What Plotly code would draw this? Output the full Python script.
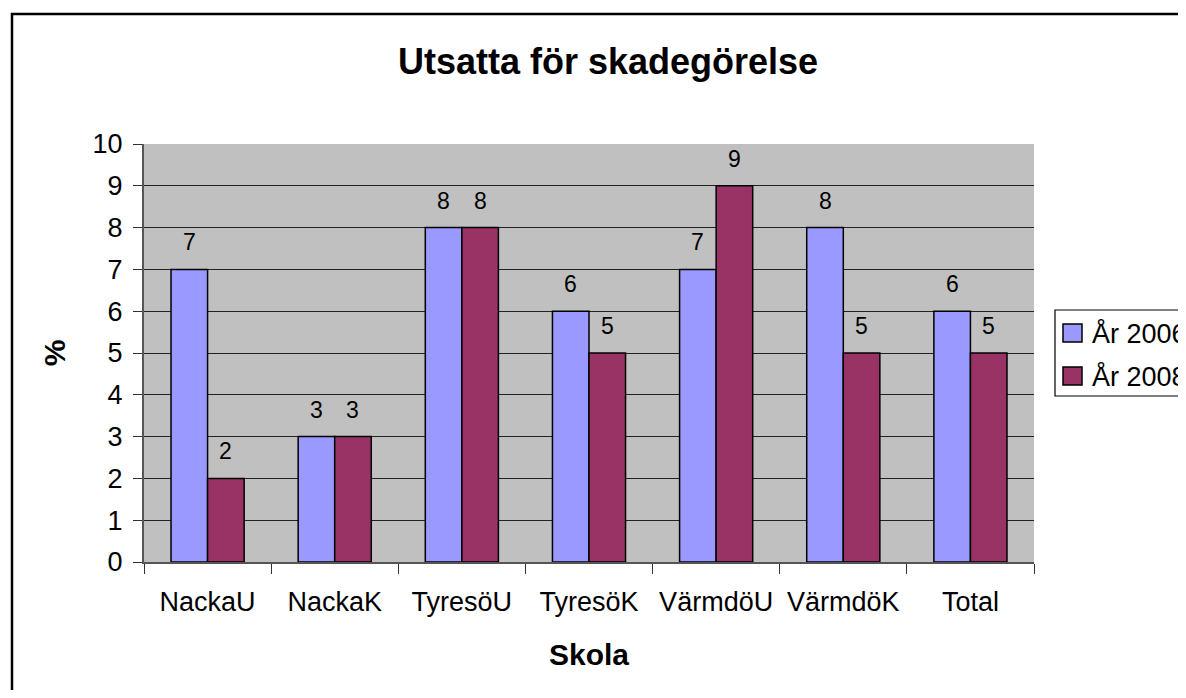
import plotly.graph_objects as go

categories = ["NackaU", "NackaK", "TyresöU", "TyresöK", "VärmdöU", "VärmdöK", "Total"]
year_2006 = [7, 3, 8, 6, 7, 8, 6]
year_2008 = [2, 3, 8, 5, 9, 5, 5]
series_names = ["År 2006", "År 2008"]
y_ticks = list(range(0, 11))

FONT = "Liberation Sans, Arial, sans-serif"
colors = ["#9999FF", "#993366"]

# page pixel geometry (browser body has an 8px margin on every side)
BODY = 8
W, H = 1186, 698
L, R = 144, 1034
T, B = 144, 562
FIG_W = W - BODY
FIG_H = H - 2 * BODY


def px_x(p):
    return (p - L) / (R - L)


def px_y(p):
    return (B - p) / (B - T)


fig = go.Figure()
for name, vals, col in zip(series_names, [year_2006, year_2008], colors):
    fig.add_trace(go.Bar(
        x=categories, y=vals, name=name, showlegend=False,
        marker=dict(color=col, line=dict(color="black", width=1.5)),
    ))

# data labels above bars
cat_w = (R - L) / len(categories)
bargap = 0.425
bar_w = cat_w * (1 - bargap) / 2
for i, vals in enumerate([year_2006, year_2008]):
    shift = (-0.5 + i) * bar_w
    for c, v in zip(categories, vals):
        fig.add_annotation(x=c, y=v, text=str(v), showarrow=False,
                           xshift=shift, yshift=27, yanchor="middle",
                           font=dict(family=FONT, size=23, color="black"))

# outer chart border
fig.add_shape(type="rect", xref="paper", yref="paper",
              x0=px_x(12), x1=px_x(1400), y0=px_y(900), y1=px_y(14),
              line=dict(color="black", width=2.5), fillcolor="rgba(0,0,0,0)", layer="below")

# legend (box, swatches, labels)
fig.add_shape(type="rect", xref="paper", yref="paper",
              x0=px_x(1055), x1=px_x(1300), y0=px_y(396), y1=px_y(310),
              line=dict(color="black", width=1.2), fillcolor="white", layer="above")
for k, (name, col) in enumerate(zip(series_names, colors)):
    cy = 333 + 43 * k
    fig.add_shape(type="rect", xref="paper", yref="paper",
                  x0=px_x(1063), x1=px_x(1082), y0=px_y(cy + 9), y1=px_y(cy - 9),
                  line=dict(color="black", width=1.5), fillcolor=col, layer="above")
    fig.add_annotation(xref="paper", yref="paper", x=px_x(1090), y=px_y(cy),
                       text=name, showarrow=False, xanchor="left", yanchor="middle",
                       font=dict(family=FONT, size=27, color="black"))

fig.update_layout(
    width=FIG_W, height=FIG_H,
    margin=dict(l=L - BODY, r=W - R, t=T - BODY, b=FIG_H + BODY - B, pad=0),
    paper_bgcolor="white", plot_bgcolor="#C0C0C0",
    barmode="group", bargap=bargap, bargroupgap=0,
    font=dict(family=FONT, size=27, color="black"),
    title=dict(text="<b>Utsatta för skadegörelse</b>", x=px_x(608), xref="paper", xanchor="center",
               yref="container", y=1 - (61 - BODY) / FIG_H, yanchor="middle",
               font=dict(family=FONT, size=36, color="black")),
    showlegend=False,
)
fig.update_xaxes(
    type="category", tickson="boundaries", ticks="outside", ticklen=10, tickcolor="#333333",
    showline=True, linecolor="#555555", linewidth=2, showgrid=False,
    ticklabelstandoff=15,
    tickfont=dict(family=FONT, size=27, color="black"),
    title=dict(text="<b>Skola</b>", font=dict(family=FONT, size=30, color="black"), standoff=28),
)
fig.update_yaxes(
    range=[0, 10], tickvals=y_ticks, ticks="outside", ticklen=9, tickcolor="#333333",
    showline=True, linecolor="#555555", linewidth=2,
    showgrid=True, gridcolor="#222222", gridwidth=1, zeroline=False,
    ticklabelstandoff=5,
    tickfont=dict(family=FONT, size=27, color="black"),
    title=dict(text="<b>%</b>", font=dict(family=FONT, size=30, color="black"), standoff=18),
)

fig.write_html("out.html")
